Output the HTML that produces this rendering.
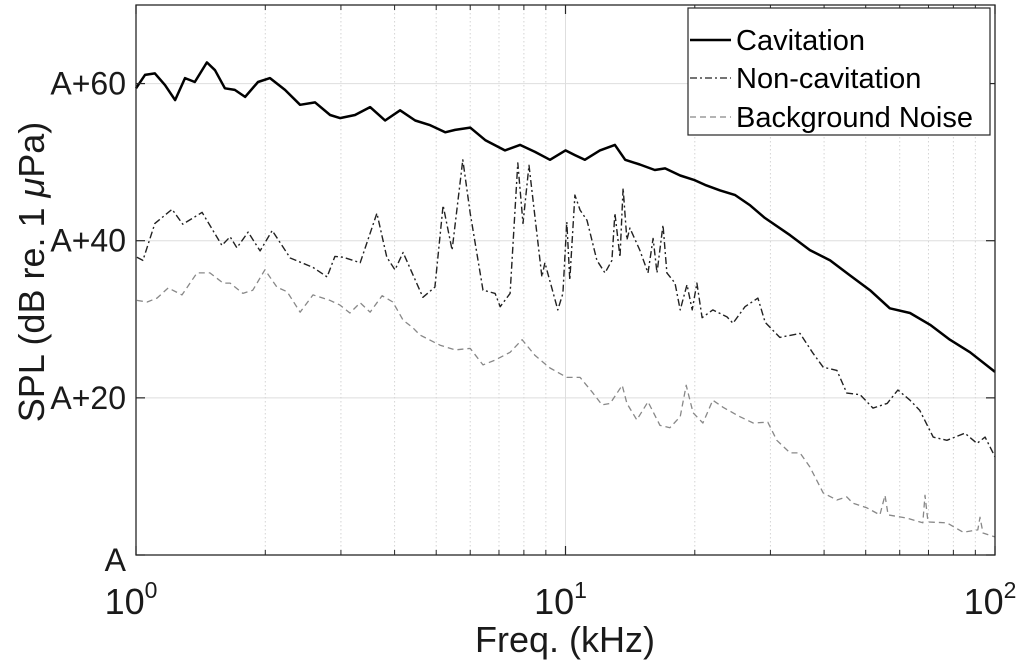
<!DOCTYPE html>
<html><head><meta charset="utf-8"><style>
html,body{margin:0;padding:0;background:#fff;}
svg{display:block;font-family:"Liberation Sans",sans-serif;}
</style></head><body>
<svg id="chart" width="1024" height="668" viewBox="0 0 1024 668" xmlns="http://www.w3.org/2000/svg">
<rect x="0" y="0" width="1024" height="668" fill="#fff"/>
<g id="grid"></g>
<g id="series"></g>
<rect x="136" y="5" width="859" height="550" fill="none" stroke="#262626" stroke-width="1.3"/>
<g id="ticks"></g>
<text x="565" y="652" font-size="36" text-anchor="middle" fill="#1a1a1a">Freq. (kHz)</text>
<text transform="translate(44,272) rotate(-90)" font-size="36" text-anchor="middle" fill="#1a1a1a">SPL (dB re. 1 <tspan font-style="italic">μ</tspan>Pa)</text>
<g>
<rect x="688" y="8" width="302" height="127" fill="#fff" stroke="#262626" stroke-width="1.2"/>
<line x1="690" y1="40" x2="731" y2="40" stroke="#000" stroke-width="2.5"/>
<text x="736" y="50" font-size="29" fill="#000">Cavitation</text>
<line x1="690" y1="78" x2="731" y2="78" stroke="#222" stroke-width="1.3" stroke-dasharray="7,3,2,3"/>
<text x="736" y="88" font-size="29" fill="#000">Non-cavitation</text>
<line x1="690" y1="117" x2="731" y2="117" stroke="#888" stroke-width="1.3" stroke-dasharray="6,4"/>
<text x="736" y="127" font-size="29" fill="#000">Background Noise</text>
</g>
</svg>
<script>
// data: log10(frequency in kHz) and SPL above A (dB)
const cavLogF = [0,.021,.044,.0675,.091,.114,.137,.165,.184,.207,.23,.254,.284,.312,.347,.382,.417,.452,.475,.51,.545,.58,.615,.65,.685,.72,.743,.778,.813,.859,.894,.929,.964,1,1.022,1.045,1.08,1.115,1.139,1.173,1.208,1.232,1.267,1.301,1.325,1.36,1.395,1.43,1.464,1.523,1.569,1.616,1.662,1.709,1.755,1.802,1.849,1.895,1.942,2];
const cavDb = [59.4,61.1,61.3,59.8,57.9,60.7,60.2,62.7,61.7,59.4,59.2,58.3,60.2,60.7,59.2,57.3,57.6,56.0,55.6,56.0,57.0,55.3,56.6,55.3,54.7,53.8,54.1,54.4,52.8,51.5,52.2,51.3,50.3,51.5,50.9,50.3,51.5,52.2,50.3,49.7,49.0,49.2,48.3,47.7,47.1,46.4,45.8,44.5,42.9,40.7,38.8,37.5,35.6,33.7,31.4,30.8,29.3,27.4,25.8,23.3];
const nonLogF = [.002,.016,.044,.084,.109,.154,.200,.219,.235,.261,.289,.317,.359,.412,.445,.463,.482,.522,.561,.584,.603,.622,.668,.696,.715,.736,.761,.778,.808,.836,.848,.871,.889,.901,.915,.945,.952,.982,.994,1.003,1.010,1.022,1.034,1.050,1.073,1.092,1.108,1.115,1.127,1.134,1.143,1.150,1.173,1.192,1.204,1.213,1.227,1.236,1.255,1.267,1.283,1.295,1.306,1.318,1.343,1.376,1.390,1.418,1.448,1.465,1.499,1.546,1.576,1.600,1.632,1.655,1.686,1.716,1.749,1.774,1.802,1.825,1.856,1.888,1.930,1.958,1.977,2.000];
const nonDb = [37.9,37.5,42.2,44.0,42.1,43.6,39.4,40.5,39.1,41.1,38.7,41.3,37.8,36.6,35.4,38.0,37.9,37.2,43.5,37.9,36.3,38.5,32.8,34.1,44.5,38.8,50.3,43.5,33.7,33.3,31.6,33.3,49.9,42.2,49.6,35.4,37.2,31.2,33.3,42.4,35.0,45.8,43.9,42.6,37.5,35.9,37.5,43.5,37.9,46.7,40.1,41.6,38.8,35.9,40.3,35.9,42.0,35.9,34.6,31.2,34.4,31.2,34.6,30.2,31.2,30.3,29.5,31.6,32.7,29.6,27.7,28.2,25.7,23.9,23.5,20.6,20.4,18.7,19.3,21.0,19.7,18.4,15.0,14.6,15.5,14.2,15.0,12.5];
const bgLogF = [.002,.026,.049,.075,.107,.142,.172,.203,.219,.249,.272,.300,.328,.352,.382,.412,.452,.475,.498,.522,.545,.573,.598,.622,.645,.661,.708,.743,.778,.808,.836,.871,.899,.929,.964,1.003,1.034,1.064,1.085,1.104,1.132,1.143,1.166,1.192,1.220,1.243,1.267,1.281,1.297,1.320,1.343,1.367,1.406,1.437,1.471,1.492,1.523,1.546,1.569,1.600,1.632,1.655,1.669,1.702,1.732,1.744,1.751,1.795,1.832,1.837,1.844,1.888,1.926,1.960,1.965,1.972,2.000];
const bgDb = [32.4,32.2,32.7,34.0,33.1,35.9,35.9,34.6,34.6,33.3,33.7,36.3,34.1,33.5,30.9,33.1,32.4,31.8,30.8,32.1,30.9,33.0,32.2,29.9,28.9,28.0,26.7,26.1,26.3,24.2,24.8,25.8,27.4,25.4,23.8,22.6,22.6,20.6,19.1,19.3,21.6,19.3,17.2,19.5,16.5,16.2,17.6,21.6,18.1,16.8,19.7,18.8,17.6,16.8,16.9,14.6,13.0,13.0,11.2,7.9,7.0,7.4,6.6,6.0,5.1,7.6,5.1,4.7,4.1,7.6,4.2,4.1,2.9,3.2,4.8,2.8,2.3];
const yTicks = [0,20,40,60];
const yTickLabels = ["A","A+20","A+40","A+60"];
const xDecades = [0,1,2];

const X0=136, X1=995, Y0=555, Y1=5, YMAX=70;
const sx = l => X0 + (X1-X0)*l/2;
const sy = v => Y0 - (Y0-Y1)*v/YMAX;
const NS="http://www.w3.org/2000/svg";
function mk(tag, parent){const e=document.createElementNS(NS,tag);parent.appendChild(e);return e;}
const grid=document.getElementById('grid'), ticks=document.getElementById('ticks'), series=document.getElementById('series');

yTicks.forEach((v,i)=>{
  if(v>0){const g=mk('line',grid);
  
  
  g.setAttribute('x1',X0);g.setAttribute('x2',X1);g.setAttribute('y1',sy(v));g.setAttribute('y2',sy(v));
  g.setAttribute('stroke','#dedede');g.setAttribute('stroke-width','1');}
  [[X0,X0+9],[X1-9,X1]].forEach(p=>{const t=mk('line',ticks);
    
    
    t.setAttribute('x1',p[0]);t.setAttribute('x2',p[1]);t.setAttribute('y1',sy(v));t.setAttribute('y2',sy(v));
    t.setAttribute('stroke','#262626');t.setAttribute('stroke-width','1.2');});
  const lb=mk('text',ticks);
  
  
  lb.setAttribute('x',126);lb.setAttribute('y',sy(v)+(v===0?16:11));lb.setAttribute('text-anchor','end');
  lb.setAttribute('font-size','32');lb.setAttribute('fill','#1a1a1a');lb.textContent=yTickLabels[i];
});
for(let d=0;d<2;d++){for(let m=2;m<=9;m++){const l=d+Math.log10(m);const x=sx(l);
  const g=mk('line',grid);
  
  
  g.setAttribute('x1',x);g.setAttribute('x2',x);g.setAttribute('y1',Y1);g.setAttribute('y2',Y0);
  g.setAttribute('stroke','#d4d4d4');g.setAttribute('stroke-width','1');g.setAttribute('stroke-dasharray','1.5,2.5');
  [[Y0,Y0-5],[Y1,Y1+5]].forEach(p=>{const t=mk('line',ticks);
    
    
    t.setAttribute('x1',x);t.setAttribute('x2',x);t.setAttribute('y1',p[0]);t.setAttribute('y2',p[1]);
    t.setAttribute('stroke','#262626');t.setAttribute('stroke-width','1');});}}
xDecades.forEach(d=>{const x=sx(d);
  if(d===1){const g=mk('line',grid);
    
    
    g.setAttribute('x1',x);g.setAttribute('x2',x);g.setAttribute('y1',Y1);g.setAttribute('y2',Y0);
    g.setAttribute('stroke','#dedede');g.setAttribute('stroke-width','1');}
  [[Y0,Y0-9],[Y1,Y1+9]].forEach(p=>{const t=mk('line',ticks);
    
    
    t.setAttribute('x1',x);t.setAttribute('x2',x);t.setAttribute('y1',p[0]);t.setAttribute('y2',p[1]);
    t.setAttribute('stroke','#262626');t.setAttribute('stroke-width','1.2');});
  const lb=mk('text',ticks);
  
  
  lb.setAttribute('x',x-5);lb.setAttribute('y',614);lb.setAttribute('text-anchor','middle');
  lb.setAttribute('font-size','36');lb.setAttribute('fill','#1a1a1a');
  lb.innerHTML='10<tspan font-size="23" dy="-16">'+d+'</tspan>';
});
function path(lx,vy,name,stroke,w,dash){
  const p=mk('path',series);
  
  
  p.setAttribute('d',lx.map((l,i)=>(i?'L':'M')+sx(l).toFixed(1)+','+sy(vy[i]).toFixed(1)).join(''));
  p.setAttribute('fill','none');p.setAttribute('stroke',stroke);p.setAttribute('stroke-width',w);
  p.setAttribute('stroke-linejoin','round');
  if(dash)p.setAttribute('stroke-dasharray',dash);
}
path(bgLogF,bgDb,'background-noise-line','#888',1.3,'6,4');
path(nonLogF,nonDb,'non-cavitation-line','#222',1.4,'7,3,2,3');
path(cavLogF,cavDb,'cavitation-line','#000',2.5,null);
</script>
</body></html>
